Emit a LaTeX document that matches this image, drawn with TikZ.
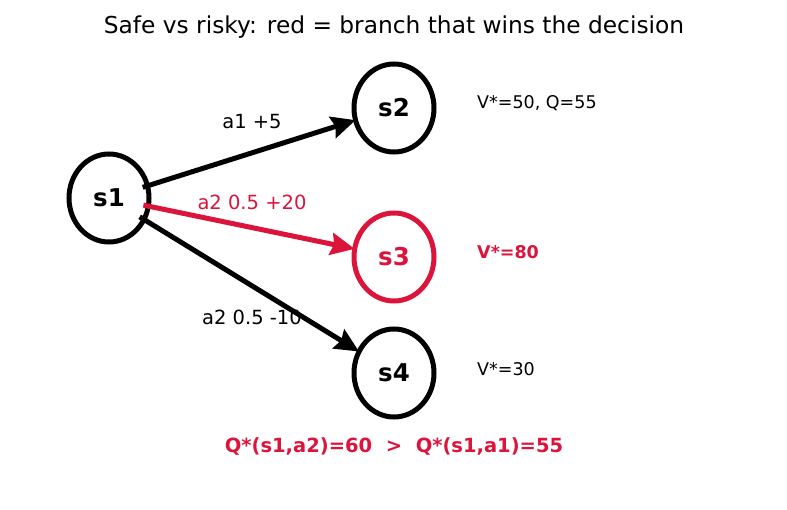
\documentclass[tikz,border=0pt]{standalone}
\usepackage{fontspec}
\setmainfont{DejaVu Sans}
\usetikzlibrary{shapes.geometric,arrows.meta}
\definecolor{crim}{RGB}{220,20,60}
\tikzset{
  state/.style={ellipse, draw=black, line width=5pt, minimum width=80pt, minimum height=88pt, inner sep=0pt, outer sep=0pt, font=\fontsize{24.5}{28}\selectfont\bfseries},
  edge/.style={line width=5pt, shorten <=-5pt, -{Stealth[length=24pt,width=22pt,inset=3pt]}},
  elabel/.style={font=\fontsize{19.5}{22}\selectfont, inner sep=0pt},
  vlabel/.style={font=\fontsize{17.5}{20}\selectfont, anchor=west, inner sep=0pt},
}
\begin{document}
\begin{tikzpicture}[x=1pt,y=-1pt]
\useasboundingbox (0,0) rectangle (787,510);
\node[font=\fontsize{23.3}{27}\selectfont, inner sep=0pt] (title) at (394,27) {Safe vs risky: red = branch that wins the decision};
\node[state] (s1) at (109,198) {s1};
\node[state] (s2) at (394,108) {s2};
\node[state, draw=crim, text=crim] (s3) at (394,257) {s3};
\node[state] (s4) at (394,373) {s4};
\draw[edge] (s1) -- (s2);
\draw[edge, crim] (s1) -- (s3);
\draw[edge] (s1) -- (s4);
\node[elabel] (l1) at (252,122) {a1 +5};
\node[elabel, text=crim] (l2) at (252,202) {a2 0.5 +20};
\node[elabel] (l3) at (252,317) {a2 0.5 -10};
\node[vlabel] (v2) at (477,103) {V*=50, Q=55};
\node[vlabel, text=crim, font=\fontsize{17.5}{20}\selectfont\bfseries] (v3) at (477,252) {V*=80};
\node[vlabel] (v4) at (477,369) {V*=30};
\node[font=\fontsize{19.5}{23}\selectfont\bfseries, text=crim, inner sep=0pt] (q) at (394,447) {Q*(s1,a2)=60\ \ >\ \ Q*(s1,a1)=55};
\end{tikzpicture}
\end{document}
